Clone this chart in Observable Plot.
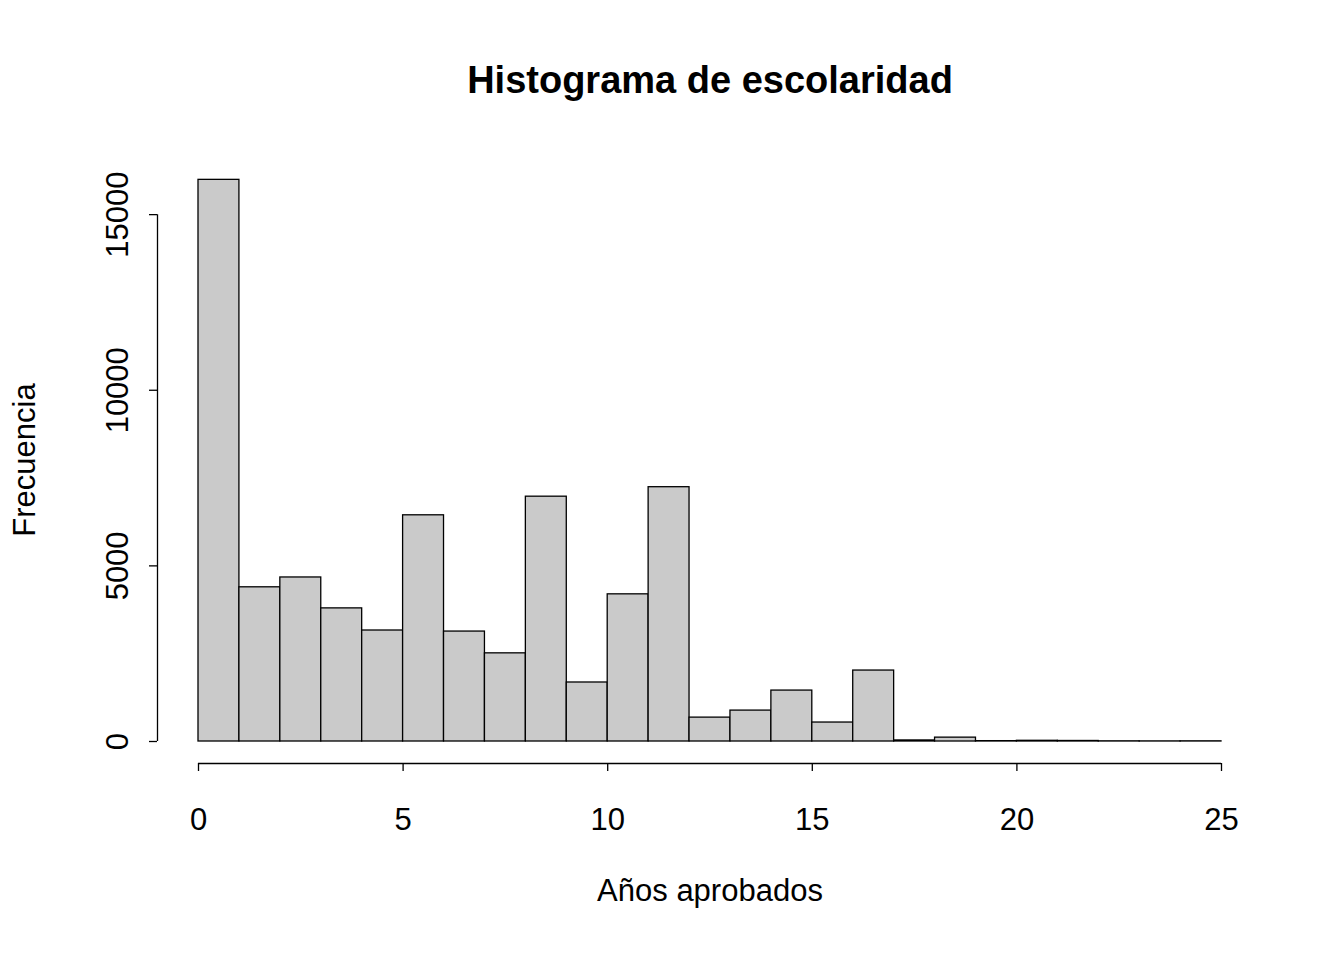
<!DOCTYPE html>
<html>
<head>
<meta charset="utf-8">
<script src="https://cdn.jsdelivr.net/npm/d3@7"></script>
<script src="https://cdn.jsdelivr.net/npm/@observablehq/plot@0.6"></script>
<style>
  body { margin: 0; background: #fff; font-family: "Liberation Sans", Arial, sans-serif; position: relative; }
  #title { height: 120px; width: 1344px; box-sizing: border-box; padding-left: 76px; padding-top: 58px;
           text-align: center; font-weight: bold; font-size: 38px; line-height: 44px; }
  #ylab { position: absolute; left: 25px; top: 460px; font-size: 31px;
          transform: translate(-50%, -50%) rotate(-90deg); white-space: nowrap; }
</style>
</head>
<body>
<div id="title">Histograma de escolaridad</div>
<div id="ylab">Frecuencia</div>
<div id="chart"></div>
<script>
// bordes de clase (años) y frecuencias
const binStart = d3.range(0, 25);
const frecuencias = [15990, 4390, 4670, 3790, 3160, 6440, 3130, 2510, 6970, 1680,
                     4190, 7240, 680, 880, 1450, 540, 2020, 30, 110, 10, 20, 15, 5, 3, 5];
const xTicks = [0, 5, 10, 15, 20, 25];
const yTicks = [0, 5000, 10000, 15000];

const bins = binStart.map((b, i) => ({x1: b, x2: b + 1, n: frecuencias[i]}));

const plot = Plot.plot({
  width: 1344,
  height: 840,
  marginLeft: 198,
  marginRight: 123,
  marginTop: 59,
  marginBottom: 219,
  style: {fontFamily: "Liberation Sans, Arial, sans-serif", fontSize: "31px", color: "#000"},
  x: {domain: [0, 25]},
  y: {domain: [0, 16000]},
  marks: [
    Plot.rectY(bins, {x1: "x1", x2: "x2", y: "n", fill: "#cacaca", stroke: "#000", strokeWidth: 1.3, inset: 0}),
    Plot.ruleY([0], {x1: 0, x2: 25, dy: 22, stroke: "#000", strokeWidth: 1.3}),
    Plot.axisX({ticks: xTicks, dy: 22, tickSize: 8, tickPadding: 36, fontSize: 31, tickFormat: d => String(d), label: null, strokeWidth: 1.3}),
    Plot.ruleX([0], {y1: 0, y2: 15000, dx: -41, stroke: "#000", strokeWidth: 1.3}),
    Plot.axisY({ticks: yTicks, dx: -41, tickSize: 8, tickPadding: 22, fontSize: 31, tickRotate: -90, tickFormat: d => String(d), label: null, strokeWidth: 1.3}),
    Plot.text(["Años aprobados"], {frameAnchor: "bottom", dy: 159, text: d => d, fontSize: 31})
  ]
});
document.getElementById("chart").appendChild(plot);
</script>
</body>
</html>
